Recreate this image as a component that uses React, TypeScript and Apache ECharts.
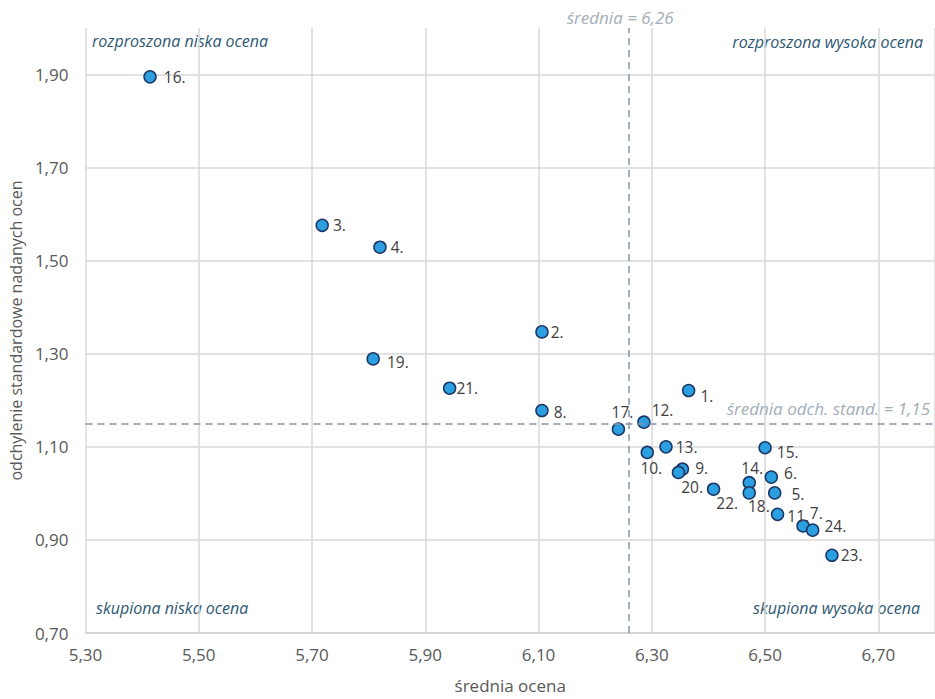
import React, { useEffect, useRef } from "react";
import * as echarts from "echarts";

// Item numbers (labels), mean rating (x) and standard deviation of ratings (y)
const itemIds = [1, 2, 3, 4, 5, 6, 7, 8, 9, 10, 11, 12, 13, 14, 15, 16, 17, 18, 19, 20, 21, 22, 23, 24];
const meanScore = [
  6.365, 6.106, 5.718, 5.82, 6.517, 6.511, 6.567, 6.106, 6.354, 6.292, 6.522, 6.286,
  6.325, 6.472, 6.5, 5.414, 6.241, 6.472, 5.808, 6.347, 5.943, 6.409, 6.618, 6.584,
];
const stdDev = [
  1.221, 1.347, 1.576, 1.529, 1.001, 1.035, 0.93, 1.178, 1.052, 1.088, 0.955, 1.153,
  1.1, 1.023, 1.098, 1.895, 1.138, 1.001, 1.289, 1.045, 1.226, 1.009, 0.867, 0.921,
];

const quadrantTexts = [
  "rozproszona niska ocena",
  "rozproszona wysoka ocena",
  "skupiona niska ocena",
  "skupiona wysoka ocena",
];
const xAxisTitle = "średnia ocena";
const yAxisTitle = "odchylenie standardowe nadanych ocen";
const xMin = 5.3, xMax = 6.8, yMin = 0.7, yMax = 2.0, step = 0.2;

// label placement tweaks (style only)
const labelTweaks: Record<number, { position?: string; offset: [number, number] }> = {
  1: { offset: [0, 5] },
  2: { offset: [-3, 0] },
  3: { offset: [-1, 0] },
  4: { offset: [-1, 0] },
  5: { offset: [5, 1] },
  6: { offset: [1, -4] },
  7: { offset: [-5, -13] },
  8: { offset: [0, 1] },
  9: { offset: [1, -1] },
  10: { position: "bottom", offset: [4, -3] },
  11: { offset: [-2, 2] },
  12: { offset: [-4, -12] },
  13: { offset: [-2, 0] },
  14: { position: "top", offset: [3, 4] },
  15: { offset: [0, 4] },
  16: { offset: [2, 0] },
  17: { position: "top", offset: [4, 2] },
  18: { offset: [-13, 13] },
  19: { offset: [2, 3] },
  20: { offset: [-9, 15] },
  21: { offset: [-5, 0] },
  22: { offset: [-9, 14] },
  23: { offset: [-3, 0] },
  24: { offset: [0, -4] },
};

const FONT = "'Open Sans', sans-serif";
const fmt = (v: number) => v.toFixed(2).replace(".", ",");
const onStep = (v: number, min: number) => {
  const k = (v - min) / step;
  return Math.abs(k - Math.round(k)) < 1e-6;
};

export default function App() {
  const ref = useRef<HTMLDivElement>(null);
  useEffect(() => {
    if (!ref.current) return;
    const chart = echarts.init(ref.current, undefined, { renderer: "svg" });
    const avgX = meanScore.reduce((a, b) => a + b, 0) / meanScore.length;
    const avgY = stdDev.reduce((a, b) => a + b, 0) / stdDev.length;
    const data = itemIds.map((id, i) => {
      const t = labelTweaks[id] || { offset: [0, 0] };
      return {
        name: id + ".",
        value: [meanScore[i], stdDev[i]],
        label: { position: t.position || "right", offset: t.offset },
      };
    });
    chart.setOption({
      animation: false,
      grid: { left: 83, top: 28, width: 854, height: 611, containLabel: false },
      xAxis: {
        type: "value",
        min: xMin,
        max: xMax,
        interval: step,
        name: xAxisTitle,
        nameLocation: "middle",
        nameGap: 44,
        nameTextStyle: { fontFamily: FONT, fontSize: 17, color: "#595959" },
        axisLine: { show: true, lineStyle: { color: "#cfcfcf", width: 1.5 } },
        axisTick: { show: false },
        axisLabel: {
          fontFamily: FONT,
          fontSize: 17,
          color: "#595959",
          margin: 13,
          showMaxLabel: false,
          formatter: (v: number) => (onStep(v, xMin) ? fmt(v) : ""),
        },
        splitLine: { show: true, lineStyle: { color: "#d9d9d9", width: 1.5 } },
      },
      yAxis: {
        type: "value",
        min: yMin,
        max: yMax,
        interval: step,
        name: yAxisTitle,
        nameLocation: "middle",
        nameGap: 58,
        nameTextStyle: { fontFamily: FONT, fontSize: 16, color: "#595959" },
        axisLine: { show: false },
        axisTick: { show: false },
        axisLabel: {
          fontFamily: FONT,
          fontSize: 17,
          color: "#595959",
          margin: 17,
          showMaxLabel: false,
          formatter: (v: number) => (onStep(v, yMin) ? fmt(v) : ""),
        },
        splitLine: {
          show: true,
          showMaxLine: false,
          lineStyle: { color: "#d9d9d9", width: 1.5 },
        },
      },
      series: [
        {
          type: "scatter",
          data,
          symbol: "circle",
          symbolSize: 12,
          itemStyle: { color: "#2b9fe0", borderColor: "#1c3766", borderWidth: 1.5, opacity: 1 },
          label: {
            show: true,
            formatter: (p: any) => p.name,
            fontFamily: FONT,
            fontSize: 15.5,
            lineHeight: 14,
            color: "#404040",
            distance: 5,
          },
          markLine: {
            silent: true,
            symbol: ["none", "none"],
            lineStyle: { type: [7, 5], color: "#8596a6", width: 1.5 },
            data: [
              {
                xAxis: avgX,
                label: {
                  show: true,
                  position: "end",
                  formatter: "średnia = " + fmt(avgX),
                  fontFamily: FONT,
                  fontStyle: "italic",
                  fontSize: 17,
                  color: "#a3aeb9",
                  distance: 2,
                  offset: [-9, 0],
                },
              },
              {
                yAxis: avgY,
                label: {
                  show: true,
                  position: "insideEndTop",
                  formatter: "średnia odch. stand. = " + fmt(avgY),
                  fontFamily: FONT,
                  fontStyle: "italic",
                  fontSize: 17,
                  color: "#a3aeb9",
                  distance: [5, 7],
                },
              },
            ],
          },
        },
      ],
      graphic: [
        {
          type: "text",
          left: 92,
          top: 33,
          style: { text: quadrantTexts[0], font: `italic 16px ${FONT}`, fill: "#2d5872" },
        },
        {
          type: "text",
          right: 12,
          top: 34,
          style: { text: quadrantTexts[1], font: `italic 16px ${FONT}`, fill: "#2d5872" },
        },
        {
          type: "text",
          left: 96,
          top: 600,
          style: { text: quadrantTexts[2], font: `italic 16px ${FONT}`, fill: "#2d5872" },
        },
        {
          type: "text",
          right: 15,
          top: 600,
          style: { text: quadrantTexts[3], font: `italic 16px ${FONT}`, fill: "#2d5872" },
        },
      ],
    });
    return () => chart.dispose();
  }, []);
  return (
    <div
      ref={ref}
      style={{ position: "absolute", left: 0, top: 0, width: 935, height: 699, background: "#fff" }}
    />
  );
}
